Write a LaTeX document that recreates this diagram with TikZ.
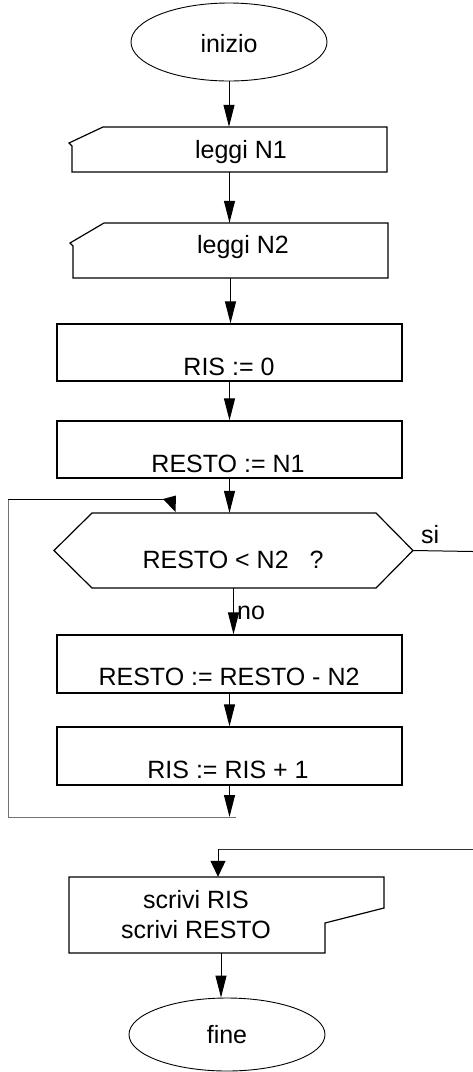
\documentclass[tikz,border=0pt]{standalone}
\usepackage{fontspec}
\setmainfont{Liberation Sans}
\usetikzlibrary{shapes.geometric,arrows.meta,calc}
\begin{document}
\begin{tikzpicture}[x=1pt,y=-1pt,
  term/.style={ellipse, draw, line width=0.9pt, inner sep=0pt, minimum width=196pt},
  procbox/.style={draw, line width=1.2pt, inner sep=0pt, minimum width=345pt, minimum height=57pt},
  hold/.style={draw=none, inner sep=0pt},
  outline/.style={line width=1.2pt, line join=miter},
  lbl/.style={anchor=base, inner sep=0pt, font=\fontsize{25}{30}\selectfont},
  flow/.style={line width=1pt, -{Triangle[length=22pt,width=11pt]}},
  flowwide/.style={line width=1pt, -{Triangle[length=16pt,width=15pt]}},
  thinline/.style={line width=1pt},
  greyline/.style={line width=1pt, draw=black!55},
]
\useasboundingbox (0,0) rectangle (473,1072);

% start terminal
\node[term, minimum height=78pt] (ini) at (229,42) {};
\node[lbl] (iniT) at (229,52) {inizio};

% input: leggi N1
\node[hold, minimum width=315pt, minimum height=45pt] (in1) at (229.5,149.5) {};
\draw[outline] (72,172) -- (72,146) -- (69,143) -- (103,127) -- (387,127) -- (387,172) -- cycle;
\node[lbl] (in1T) at (241,158) {leggi N1};

% input: leggi N2
\node[hold, minimum width=315pt, minimum height=55pt] (in2) at (230.5,250.5) {};
\draw[outline] (73,278) -- (73,246) -- (70,243) -- (104,223) -- (388,223) -- (388,278) -- cycle;
\node[lbl] (in2T) at (243,253) {leggi N2};

% assignments
\node[procbox] (ris0) at (229.5,352.5) {};
\node[lbl] (ris0T) at (229,375) {RIS := 0};

\node[procbox] (rst) at (229.5,449.5) {};
\node[lbl] (rstT) at (228,472) {RESTO := N1};

% decision
\node[hold, minimum width=359pt, minimum height=75pt] (hex) at (233.5,550.5) {};
\draw[outline] (92,513) -- (376,513) -- (413,550.5) -- (376,588) -- (92,588) -- (54,550.5) -- cycle;
\node[lbl] (hexT) at (233,568) {RESTO < N2\ \ \ ?};

% loop body
\node[procbox, minimum height=58pt] (sub) at (229.5,664) {};
\node[lbl] (subT) at (229,685) {RESTO := RESTO - N2};

\node[procbox, minimum height=58pt] (inc) at (229.5,756) {};
\node[lbl] (incT) at (228,778) {RIS := RIS + 1};

% output: scrivi
\node[hold, minimum width=315pt, minimum height=76pt] (scr) at (226.5,915) {};
\draw[outline] (69,877) -- (384,877) -- (384,908) -- (325,923) -- (325,953) -- (69,953) -- cycle;
\node[lbl] (scrT1) at (196,908) {scrivi RIS};
\node[lbl] (scrT2) at (196,938) {scrivi RESTO};

% end terminal
\node[term, minimum height=73pt] (fin) at (227,1034.5) {};
\node[lbl] (finT) at (227,1043) {fine};

% branch labels
\node[lbl, anchor=base west] (siT) at (421,543) {si};
\node[lbl, anchor=base west] (noT) at (237,619) {no};

% main flow
\draw[flow] (ini.south) -- (ini.south |- in1.north);
\draw[flow] (in1.south) -- (in1.south |- in2.north);
\draw[flow] (in2.south) -- (in2.south |- ris0.north);
\draw[flow] (ris0.south) -- (ris0.north |- rst.north);
\draw[flow] (rst.south) -- (rst.south |- hex.north);
\draw[flow] (hex.south) -- (hex.south |- sub.north);
\draw[flow] (sub.south) -- (sub.south |- inc.north);

% loop back to the test
\coordinate (lpB) at (229.5,817);
\coordinate (lpE) at (236,817);
\coordinate (lpL) at (8,817);
\coordinate (lpT) at (8,499);
\coordinate (lpA) at (170,499);
\draw[flow] (inc.south) -- (lpB);
\draw[greyline] (lpE) -- (lpL) -- (lpT);
\draw[thinline] (lpT) -- (lpA);
\fill (163,499) -- (176,495.5) -- (175.5,512) -- cycle;

% exit branch
\coordinate (siE) at (473,551.5);
\draw[thinline] (hex.east) -- (siE);
\coordinate (rtR) at (473,849);
\coordinate (rtC) at (218,849);
\draw[thinline, draw=black!80] (rtR) -- (rtC);
\draw[flowwide] (rtC) -- (rtC |- scr.north);

% output to end
\coordinate (scrOut) at ($(scr.south)+(-5.5,0)$);
\draw[flow] (scrOut) -- (scrOut |- fin.north);
\end{tikzpicture}
\end{document}
